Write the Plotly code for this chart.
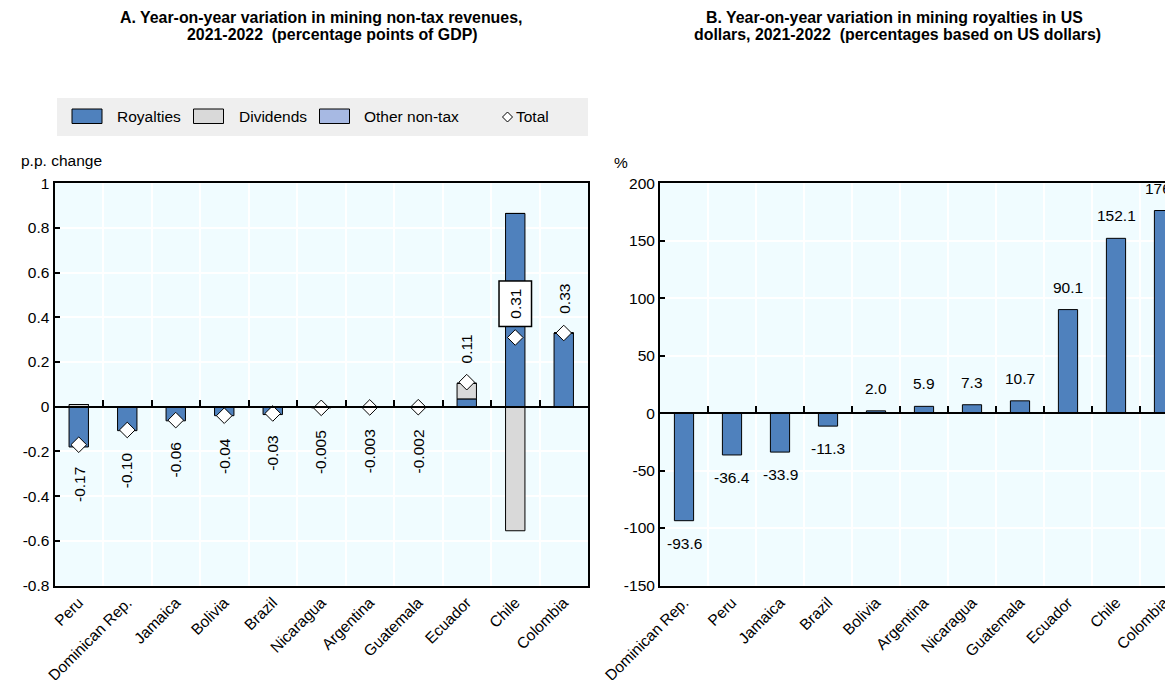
import plotly.graph_objects as go

# ---------------- data ----------------
countries_a = ["Peru", "Dominican Rep.", "Jamaica", "Bolivia", "Brazil", "Nicaragua",
               "Argentina", "Guatemala", "Ecuador", "Chile", "Colombia"]
royalties_a = [-0.18, -0.107, -0.063, -0.04, -0.035, -0.005, -0.003, -0.002, 0.035, 0.865, 0.33]
dividends_a = [0.01, 0.0, 0.0, 0.0, 0.0, 0.0, 0.0, 0.0, 0.07, -0.555, 0.0]
other_a = [0.0, 0.0, 0.0, 0.0, 0.0, 0.0, 0.0, 0.0, 0.0, 0.0, 0.0]
total_a = [-0.17, -0.104, -0.06, -0.04, -0.03, -0.005, -0.003, -0.002, 0.11, 0.31, 0.33]
total_labels_a = ["-0.17", "-0.10", "-0.06", "-0.04", "-0.03", "-0.005", "-0.003",
                  "-0.002", "0.11", "0.31", "0.33"]

countries_b = ["Dominican Rep.", "Peru", "Jamaica", "Brazil", "Bolivia", "Argentina",
               "Nicaragua", "Guatemala", "Ecuador", "Chile", "Colombia"]
royalties_b = [-93.6, -36.4, -33.9, -11.3, 2.0, 5.9, 7.3, 10.7, 90.1, 152.1, 176.3]

yticks_a = [1, 0.8, 0.6, 0.4, 0.2, 0, -0.2, -0.4, -0.6, -0.8]
yticktext_a = ["1", "0.8", "0.6", "0.4", "0.2", "0", "-0.2", "-0.4", "-0.6", "-0.8"]
yticks_b = [200, 150, 100, 50, 0, -50, -100, -150]
yticktext_b = ["200", "150", "100", "50", "0", "-50", "-100", "-150"]

# ---------------- style ----------------
W, H = 1173, 680
OFF = 8  # page offset of the figure (body margin)
FONT = "Liberation Sans, Arial, sans-serif"
FS = 15.5
BLUE = "#4f81bd"
GREY = "#d9d9d9"
LBLUE = "#a7b9e3"
PLOTBG = "#f0fcff"


def px(x):
    return (x - OFF) / W


def py(y):
    return 1 - (y - OFF) / H


ydom = [py(585.5), py(183.3)]
xdom_a = [px(54.5), px(588)]
xdom_b = [px(660), 1.0]
rng_b_end = 10.5 - (1188 - (W + OFF)) / 48.0

fig = go.Figure()

bar_line = dict(color="black", width=1)
fig.add_trace(go.Bar(x=countries_a, y=royalties_a, name="Royalties", marker=dict(color=BLUE, line=bar_line),
                     width=0.4, xaxis="x", yaxis="y", showlegend=False))
fig.add_trace(go.Bar(x=countries_a, y=dividends_a, name="Dividends", marker=dict(color=GREY, line=bar_line),
                     width=0.4, xaxis="x", yaxis="y", showlegend=False))
fig.add_trace(go.Bar(x=countries_a, y=other_a, name="Other non-tax", marker=dict(color=LBLUE, line=bar_line),
                     width=0.4, xaxis="x", yaxis="y", showlegend=False))
fig.add_trace(go.Scatter(x=countries_a, y=total_a, name="Total", mode="markers",
                         marker=dict(symbol="diamond", size=12, color="white", line=dict(color="black", width=1)),
                         xaxis="x", yaxis="y", showlegend=False, cliponaxis=False))

fig.add_trace(go.Bar(x=countries_b, y=royalties_b, name="Royalties", marker=dict(color=BLUE, line=bar_line),
                     width=0.4, xaxis="x2", yaxis="y2", showlegend=False))

# helper traces for the zero-line axes (no data)
fig.add_trace(go.Scatter(x=[None], y=[None], xaxis="x3", yaxis="y", showlegend=False, hoverinfo="skip"))
fig.add_trace(go.Scatter(x=[None], y=[None], xaxis="x4", yaxis="y2", showlegend=False, hoverinfo="skip"))

axis_font = dict(family=FONT, size=FS, color="black")

fig.update_layout(
    width=W, height=H,
    margin=dict(l=0, r=0, t=0, b=0, autoexpand=False),
    paper_bgcolor="white",
    plot_bgcolor=PLOTBG,
    barmode="relative",
    showlegend=False,
    font=dict(family=FONT, size=FS, color="black"),
    xaxis=dict(domain=xdom_a, anchor="y", type="category", range=[-0.5, 10.5], automargin=False,
               tickangle=-45, ticks="", showgrid=False, showline=True, linecolor="black",
               linewidth=2, mirror=True, tickfont=axis_font),
    yaxis=dict(domain=ydom, anchor="x", range=[-0.8, 1], tickvals=yticks_a, ticktext=yticktext_a,
               automargin=False,
               ticks="inside", ticklen=5, tickcolor="black", tickwidth=1.5, showline=True,
               linecolor="black", linewidth=2, mirror=True, showgrid=True, gridcolor="white",
               gridwidth=1.5, zeroline=False, tickfont=axis_font),
    xaxis3=dict(overlaying="x", anchor="free", position=py(406.5), range=[-0.5, 10.5], automargin=False,
                tickvals=[i + 0.5 for i in range(10)], ticks="inside", ticklen=6, tickwidth=1.5,
                tickcolor="black", showticklabels=False, showline=True, linecolor="black",
                linewidth=2, showgrid=True, gridcolor="white", gridwidth=1.5, zeroline=False),
    xaxis2=dict(domain=xdom_b, anchor="y2", type="category", range=[-0.5, rng_b_end], automargin=False,
                tickangle=-45, ticks="", showgrid=False, showline=True, linecolor="black",
                linewidth=2, mirror=True, tickfont=axis_font),
    yaxis2=dict(domain=ydom, anchor="x2", range=[-150, 200], tickvals=yticks_b, ticktext=yticktext_b,
                automargin=False,
                ticks="inside", ticklen=5, tickcolor="black", tickwidth=1.5, showline=True,
                linecolor="black", linewidth=2, mirror=False, showgrid=True, gridcolor="white",
                gridwidth=1.5, zeroline=False, tickfont=axis_font),
    xaxis4=dict(overlaying="x2", anchor="free", position=py(413.3), range=[-0.5, rng_b_end], automargin=False,
                tickvals=[i + 0.5 for i in range(10)], ticks="inside", ticklen=6, tickwidth=1.5,
                tickcolor="black", showticklabels=False, showline=True, linecolor="black",
                linewidth=2, showgrid=True, gridcolor="white", gridwidth=1.5, zeroline=False),
)

annotations = []
shapes = []

# titles (one annotation per line for tight line spacing)
TFS = 15.9
title_lines = [
    ("A. Year-on-year variation in mining non-tax revenues,", 321, 17.5),
    ("2021-2022  (percentage points of GDP)", 332, 35),
    ("B. Year-on-year variation in mining royalties in US", 895, 17.5),
    ("dollars, 2021-2022  (percentages based on US dollars)", 897, 35),
]
for t, xc, yc in title_lines:
    annotations.append(dict(text=f"<b>{t}</b>", x=px(xc), y=py(yc), xref="paper", yref="paper",
                            xanchor="center", yanchor="middle", showarrow=False,
                            font=dict(family=FONT, size=TFS, color="black")))

# axis unit labels
annotations.append(dict(text="p.p. change", x=px(19), y=py(160), xref="paper", yref="paper",
                        xanchor="left", yanchor="middle", showarrow=False, font=dict(family=FONT, size=FS)))
annotations.append(dict(text="%", x=px(612), y=py(163), xref="paper", yref="paper",
                        xanchor="left", yanchor="middle", showarrow=False, font=dict(family=FONT, size=FS)))

# legend (drawn)
shapes.append(dict(type="rect", xref="paper", yref="paper", x0=px(57), x1=px(588), y0=py(136), y1=py(98),
                   fillcolor="#efefef", line=dict(width=0), layer="below"))
leg_items = [("Royalties", BLUE, 72, 116), ("Dividends", GREY, 193.5, 237.5), ("Other non-tax", LBLUE, 319.5, 363)]
for name, col, sx, tx in leg_items:
    shapes.append(dict(type="rect", xref="paper", yref="paper", x0=px(sx), x1=px(sx + 30), y0=py(123.5), y1=py(109),
                       fillcolor=col, line=dict(color="black", width=1)))
    annotations.append(dict(text=name, x=px(tx - 1), y=py(116.5), xref="paper", yref="paper",
                            xanchor="left", yanchor="middle", showarrow=False, font=dict(family=FONT, size=FS)))
dx, dyc, r = 507.5, 117, 5
shapes.append(dict(type="path", xref="paper", yref="paper",
                   path=f"M {px(dx - r)},{py(dyc)} L {px(dx)},{py(dyc - r)} L {px(dx + r)},{py(dyc)} L {px(dx)},{py(dyc + r)} Z",
                   fillcolor="white", line=dict(color="black", width=1)))
annotations.append(dict(text="Total", x=px(514), y=py(116.5), xref="paper", yref="paper",
                        xanchor="left", yanchor="middle", showarrow=False, font=dict(family=FONT, size=FS)))

# panel A value labels (rotated)
for c, v, lab in zip(countries_a, total_a, total_labels_a):
    a = dict(text=lab, x=c, y=v, xref="x", yref="y", showarrow=False, textangle=-90,
             font=dict(family=FONT, size=FS, color="black"), xanchor="center")
    if v < 0:
        a.update(yanchor="top", yshift=-20)
    else:
        a.update(yanchor="bottom", yshift=17)
    if c == "Chile":
        a.update(bordercolor="black", borderwidth=1.5, borderpad=7, bgcolor="white", yshift=10)
    annotations.append(a)

# panel B value labels
for c, v in zip(countries_b, royalties_b):
    a = dict(text=f"{v:.1f}", x=c, y=v, xref="x2", yref="y2", showarrow=False,
             font=dict(family=FONT, size=FS, color="black"), xanchor="center")
    if v < 0:
        a.update(yanchor="top", yshift=-12)
    else:
        a.update(yanchor="bottom", yshift=12)
    annotations.append(a)

fig.update_layout(annotations=annotations, shapes=shapes)

fig.write_html("out.html")
